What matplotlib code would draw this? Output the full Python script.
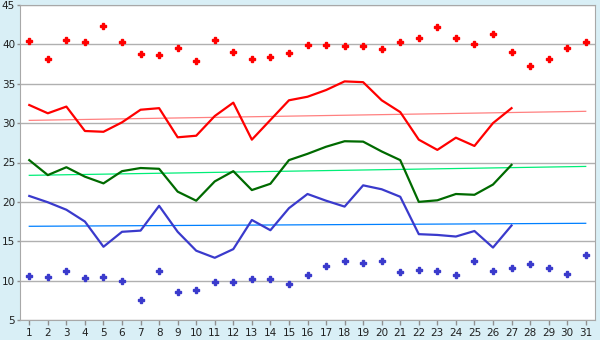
import numpy as np
import matplotlib
matplotlib.use("Agg")
import matplotlib.pyplot as plt

days = list(range(1, 32))
line_days = list(range(1, 28))

red_dots = [40.4, 38.1, 40.5, 40.3, 42.3, 40.3, 38.8, 38.7, 39.5, 37.9,
            40.5, 39.0, 38.1, 38.4, 38.9, 39.9, 39.9, 39.75, 39.75, 39.4,
            40.3, 40.8, 42.2, 40.8, 40.1, 41.3, 39.0, 37.2, 38.2, 39.5, 40.3]
red_line = [32.3, 31.25, 32.1, 29.0, 28.9, 30.1, 31.7, 31.9, 28.2, 28.4,
            30.9, 32.6, 27.9, 30.4, 32.9, 33.35, 34.2, 35.3, 35.2, 32.9,
            31.4, 27.9, 26.6, 28.15, 27.1, 30.0, 31.9]
green_line = [25.3, 23.4, 24.4, 23.2, 22.35, 23.9, 24.3, 24.2, 21.3, 20.15,
              22.6, 23.9, 21.5, 22.3, 25.3, 26.1, 27.0, 27.7, 27.65, 26.4,
              25.3, 20.0, 20.2, 21.0, 20.9, 22.2, 24.7]
blue_line = [20.75, 19.95, 19.0, 17.5, 14.3, 16.2, 16.35, 19.5, 16.2, 13.8,
             12.9, 14.0, 17.7, 16.4, 19.2, 21.0, 20.15, 19.4, 22.1, 21.6,
             20.65, 15.9, 15.8, 15.6, 16.3, 14.2, 17.0]
blue_dots = [10.6, 10.5, 11.2, 10.3, 10.5, 10.0, 7.6, 11.2, 8.5, 8.8,
             9.8, 9.8, 10.2, 10.2, 9.6, 10.7, 11.8, 12.5, 12.2, 12.5,
             11.05, 11.4, 11.2, 10.7, 12.45, 11.2, 11.6, 12.1, 11.6, 10.9, 13.3]

# trend lines: values at day 1 and day 31
trend_days = [1, 31]
red_trend = [30.35, 31.5]
green_trend = [23.37, 24.5]
blue_trend = [16.9, 17.28]

fig = plt.figure(figsize=(6, 3.4), dpi=100)
fig.patch.set_facecolor("#d9eff6")
ax = fig.add_axes([20/600, 20/340, 575/600, 315/340])
ax.set_facecolor("white")

for series, trend, color, tcolor in [(red_line, red_trend, "#ff0000", "#ff8080"),
                                     (green_line, green_trend, "#006a00", "#00ee77"),
                                     (blue_line, blue_trend, "#3a3acc", "#0080ff")]:
    ax.plot(trend_days, trend, color=tcolor, lw=0.9, zorder=2)
    ax.plot(line_days, series, color=color, lw=1.6, zorder=3)

ax.plot(days, red_dots, ls="none", marker="P", ms=4.5, color="#ff0000", mec="#ff0000", zorder=4)
ax.plot(days, blue_dots, ls="none", marker="P", ms=4.5, color="#3a3acc", mec="#3a3acc", zorder=4)

ax.set_xlim(0.5, 31.5)
ax.set_ylim(5, 45)
ax.set_xticks(days)
ax.set_yticks(range(5, 50, 5))
ax.yaxis.grid(True, color="#b0b0b0", lw=1)
ax.set_axisbelow(True)
for s in ax.spines.values():
    s.set_color("#a8a8a8")
ax.tick_params(axis="both", colors="#909090", labelcolor="#202020", labelsize=7.5, width=1)
ax.tick_params(axis="y", length=2.5, pad=1)
ax.tick_params(axis="x", length=3.6, pad=2)
plt.savefig("out.png", dpi=100, facecolor=fig.get_facecolor())
